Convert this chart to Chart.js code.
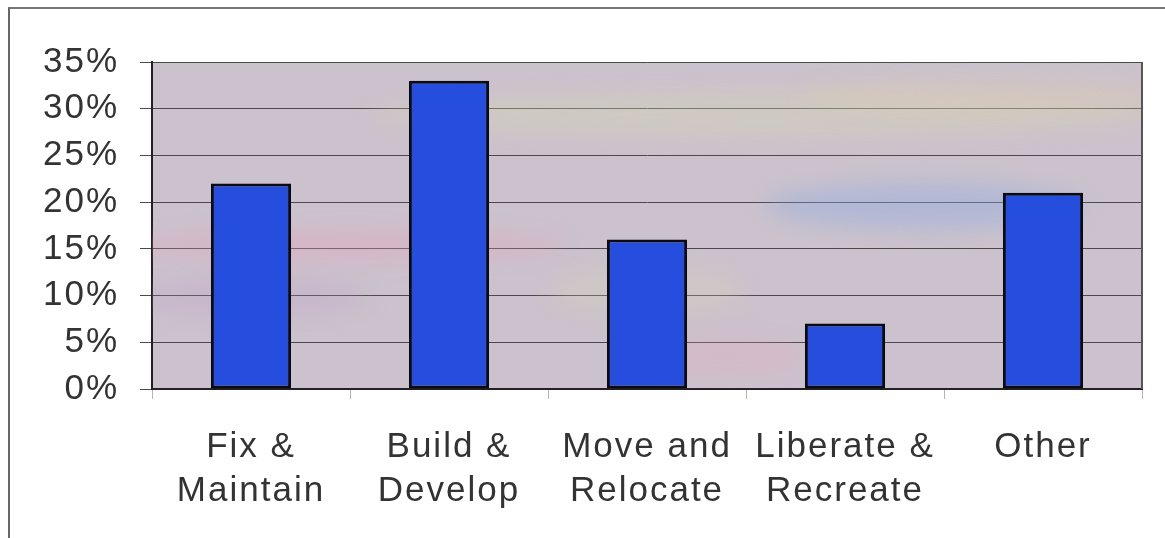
<!DOCTYPE html>
<html lang="en">
<head>
    <meta charset="UTF-8">
    <title>Activity Types</title>
    <script src="https://cdn.jsdelivr.net/npm/chart.js"></script>
    <style>
body {
    margin: 0;
    background: #fff;
    font-family: "Liberation Sans", Arial, sans-serif;
}

.frame {
    position: relative;
    width: 1165px;
    height: 538px;
}

/* thin border round the chart, left and top sides only */
.frame .edge {
    position: absolute;
    left: 8px;
    top: 7px;
    right: 0;
    bottom: 0;
    border-left: 2px solid #666;
    border-top: 2px solid #777;
    pointer-events: none;
}
    </style>
</head>
<body>
    <div class="frame">
        <canvas id="activityChart"></canvas>
        <div class="edge"></div>
    </div>
    <script>
const categories = [
    ["Fix &", "Maintain"],
    ["Build &", "Develop"],
    ["Move and", "Relocate"],
    ["Liberate &", "Recreate"],
    ["Other"]
];
const shares = [22, 33, 16, 7, 21];
const yTicks = [0, 5, 10, 15, 20, 25, 30, 35];

// plot background: grey-lilac fill with a few soft colour patches
const plotBackground = {
    id: 'plotBackground',
    beforeDatasetsDraw(chart) {
        const { ctx, chartArea: a } = chart;
        ctx.save();
        ctx.beginPath();
        ctx.rect(a.left, a.top, a.width, a.height);
        ctx.clip();

        const patches = [
            // [cx, cy, rx, ry, colour]
            [0.20, 0.56, 0.22, 0.05, 'rgba(235,160,185,0.35)'],
            [0.10, 0.72, 0.12, 0.06, 'rgba(190,150,200,0.25)'],
            [0.62, 0.16, 0.40, 0.07, 'rgba(215,215,175,0.35)'],
            [0.85, 0.10, 0.20, 0.05, 'rgba(225,205,170,0.30)'],
            [0.78, 0.44, 0.16, 0.07, 'rgba(140,170,225,0.40)'],
            [0.58, 0.90, 0.08, 0.06, 'rgba(235,170,190,0.30)'],
            [0.50, 0.70, 0.10, 0.08, 'rgba(220,210,180,0.25)']
        ];
        ctx.filter = 'blur(10px)';
        patches.forEach(([cx, cy, rx, ry, col]) => {
            ctx.fillStyle = col;
            ctx.beginPath();
            ctx.ellipse(a.left + cx * a.width, a.top + cy * a.height,
                rx * a.width, ry * a.height, 0, 0, Math.PI * 2);
            ctx.fill();
        });
        ctx.restore();
    },
    beforeDraw(chart) {
        const { ctx, chartArea: a } = chart;
        ctx.save();
        ctx.fillStyle = 'rgb(203,194,205)';
        ctx.fillRect(a.left, a.top, a.width, a.height);
        ctx.restore();
    },
    afterDraw(chart) {
        // right edge of the plot box
        const { ctx, chartArea: a } = chart;
        ctx.save();
        ctx.strokeStyle = '#555';
        ctx.lineWidth = 2;
        ctx.beginPath();
        ctx.moveTo(a.right, a.top);
        ctx.lineTo(a.right, a.bottom);
        ctx.stroke();
        ctx.restore();
    }
};

// wide-set lettering like the original typeface
const spacedText = {
    id: 'spacedText',
    beforeUpdate(chart) { chart.ctx.letterSpacing = '2px'; },
    beforeDraw(chart) { chart.ctx.letterSpacing = '2px'; }
};

const ctx = document.getElementById('activityChart').getContext('2d');
const activityChart = new Chart(ctx, {
    type: 'bar',
    data: {
        labels: categories,
        datasets: [{
            data: shares,
            backgroundColor: 'rgb(38,78,222)',
            borderColor: '#0a0a14',
            borderWidth: 3,
            borderSkipped: false,
            categoryPercentage: 1,
            barPercentage: 0.405
        }]
    },
    options: {
        responsive: true,
        maintainAspectRatio: false,
        animation: false,
        layout: { padding: { top: 62, right: 23, left: 0, bottom: 0 } },
        plugins: {
            legend: { display: false },
            tooltip: { enabled: false }
        },
        scales: {
            x: {
                offset: true,
                grid: {
                    offset: true,
                    drawOnChartArea: false,
                    tickLength: 10,
                    color: '#b5b5b5'
                },
                border: { display: true, color: '#222', width: 2 },
                ticks: {
                    color: '#333',
                    padding: 26,
                    maxRotation: 0,
                    autoSkip: false,
                    font: { family: '"Liberation Sans", Arial, sans-serif', size: 35, lineHeight: 1.26 }
                },
                afterFit(scale) { scale.height = 149; }
            },
            y: {
                min: yTicks[0],
                max: yTicks[yTicks.length - 1],
                afterBuildTicks(scale) {
                    scale.ticks = yTicks.map(v => ({ value: v }));
                },
                grid: {
                    color: '#4a4a4a',
                    lineWidth: 1,
                    tickLength: 12
                },
                border: { display: true, color: '#222', width: 2 },
                ticks: {
                    color: '#333',
                    padding: 21,
                    font: { family: '"Liberation Sans", Arial, sans-serif', size: 35 },
                    callback: v => v + '%'
                },
                afterFit(scale) { scale.width = 152; }
            }
        }
    },
    plugins: [plotBackground, spacedText]
});
    </script>
</body>
</html>
